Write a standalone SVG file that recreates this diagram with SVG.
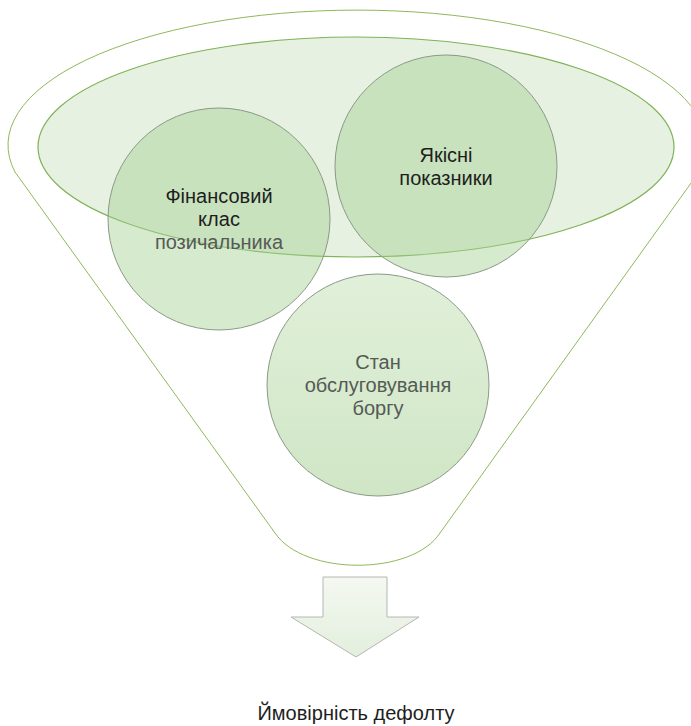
<svg xmlns="http://www.w3.org/2000/svg" width="691" height="726" viewBox="0 0 691 726">
<defs>
<style>
.funnel{fill:#ffffff;stroke:#8fb85a;stroke-width:1}
.band{fill:rgb(200,225,190);fill-opacity:0.45;stroke:#7fb356;stroke-width:1.2}
.circ{fill:rgb(165,208,145);fill-opacity:0.45;stroke:#8a9a86;stroke-width:1}
.t{font-family:"Liberation Sans",Arial,sans-serif;font-size:20px;text-anchor:middle}
.dark{fill:#1e1e1e}
.grey{fill:#555a55}
</style>
<linearGradient id="arrowGrad" x1="0" y1="0" x2="0" y2="1">
<stop offset="0" stop-color="#f4f8f1"/>
<stop offset="1" stop-color="#e3efdd"/>
</linearGradient>
<linearGradient id="c3Grad" x1="0" y1="0" x2="0" y2="1">
<stop offset="0" stop-color="rgb(195,225,180)"/>
<stop offset="1" stop-color="rgb(160,205,140)"/>
</linearGradient>
</defs>
<rect width="691" height="726" fill="#ffffff"/>
<g id="funnel">
<path class="funnel" d="M 15,172 A 349 135 0 1 1 699,172 L 440,533 C 412,576 304,576 275,533 Z"/>
</g>
<g id="band">
<ellipse class="band" cx="356" cy="147" rx="318" ry="110"/>
</g>
<g id="node-finance">
<circle class="circ" cx="219" cy="219" r="111"/>
<text class="t dark" x="219" y="203">Фінансовий</text>
<text class="t dark" x="219" y="226">клас</text>
<text class="t grey" x="219" y="249">позичальника</text>
</g>
<g id="node-quality">
<circle class="circ" cx="446" cy="166" r="111"/>
<text class="t dark" x="446" y="162">Якісні</text>
<text class="t dark" x="446" y="185">показники</text>
</g>
<g id="node-debt">
<circle cx="378" cy="385" r="111" fill="url(#c3Grad)" fill-opacity="0.5" stroke="#8a9a86" stroke-width="1"/>
<text class="t grey" x="378" y="369">Стан</text>
<text class="t grey" x="378" y="392">обслуговування</text>
<text class="t grey" x="378" y="415">боргу</text>
</g>
<g id="connectors">
<path d="M 323,577 L 387,577 L 387,617 L 419,617 L 356,657 L 291,617 L 323,617 Z" fill="url(#arrowGrad)" stroke="#b4b8b2" stroke-width="1"/>
</g>
<g id="node-result">
<text class="t dark" x="356" y="720">Ймовірність дефолту</text>
</g>
</svg>
